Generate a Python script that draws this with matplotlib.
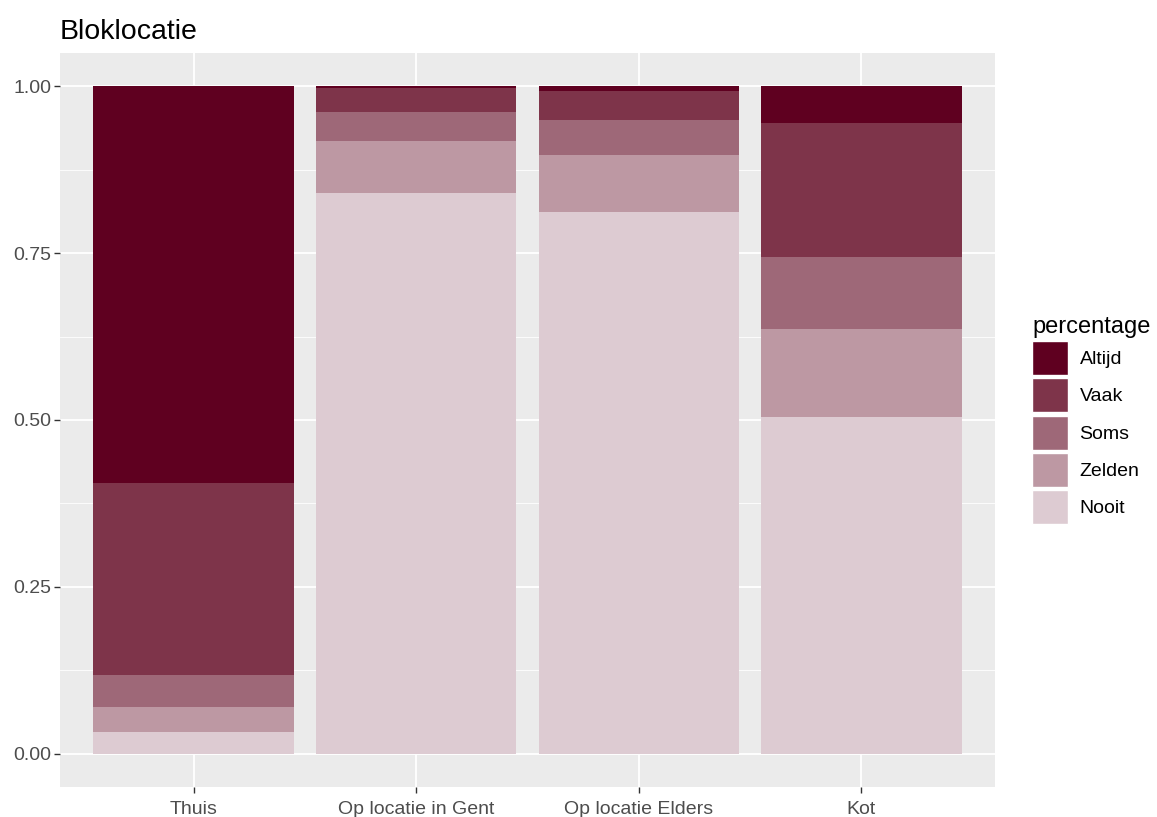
import numpy as np
import matplotlib
matplotlib.use("Agg")
import matplotlib.pyplot as plt
from matplotlib.patches import Patch

plt.rcParams['font.family'] = ['Liberation Sans', 'DejaVu Sans']

# Data (fractions per location)
locations = ["Thuis", "Op locatie in Gent", "Op locatie Elders", "Kot"]
levels = ["Altijd", "Vaak", "Soms", "Zelden", "Nooit"]
altijd = [0.595, 0.003, 0.007, 0.055]
vaak = [0.287, 0.036, 0.043, 0.201]
soms = [0.048, 0.043, 0.053, 0.108]
zelden = [0.037, 0.078, 0.085, 0.132]
nooit = [0.033, 0.840, 0.812, 0.504]

colors = {"Altijd": "#5f0020", "Vaak": "#7e344a", "Soms": "#9e6878",
          "Zelden": "#bd98a3", "Nooit": "#ddcbd2"}

fig = plt.figure(figsize=(11.57, 8.17), dpi=100)
ax = fig.add_axes([60 / 1157, 1 - 787 / 817, 935 / 1157, 734 / 817])
ax.set_facecolor("#ebebeb")

x = np.arange(1, len(locations) + 1)
series = {"Nooit": nooit, "Zelden": zelden, "Soms": soms, "Vaak": vaak, "Altijd": altijd}
bottom = np.zeros(len(locations))
for name, vals in series.items():
    ax.bar(x, vals, width=0.9, bottom=bottom, color=colors[name], linewidth=0, zorder=3)
    bottom += np.array(vals)

ax.set_xlim(0.4, 4.6)
ax.set_ylim(-0.05, 1.05)
ax.set_xticks(x)
ax.set_xticklabels(locations)
ax.set_yticks([0, 0.25, 0.5, 0.75, 1.0])
ax.set_yticklabels(["0.00", "0.25", "0.50", "0.75", "1.00"])
ax.set_yticks([0.125, 0.375, 0.625, 0.875], minor=True)

ax.grid(which="major", color="white", linewidth=1.3, zorder=0)
ax.grid(which="minor", axis="y", color="white", linewidth=0.6, zorder=0)
for s in ax.spines.values():
    s.set_visible(False)
ax.tick_params(axis="both", which="major", colors="#333333", length=4, width=1,
               labelsize=14, labelcolor="#4d4d4d")
ax.tick_params(axis="x", which="major", pad=6)
ax.tick_params(axis="y", which="major", pad=2)
ax.tick_params(axis="y", which="minor", length=0)

ax.set_title("Bloklocatie", loc="left", fontsize=20.5, color="black", pad=10)

# legend: Altijd on top, square keys with thin white gaps
handles = [Patch(facecolor=colors[l], edgecolor="white", linewidth=1, label=l) for l in levels]
leg = ax.legend(handles=handles, title="percentage", loc="center left",
                bbox_to_anchor=(1.04, 0.5), frameon=False, fontsize=14,
                title_fontsize=17, handlelength=1.82, handleheight=2.3,
                labelspacing=0.18, handletextpad=0.6, borderaxespad=0,
                borderpad=0)
leg._legend_box.align = "left"

fig.savefig("out.png", dpi=100)
